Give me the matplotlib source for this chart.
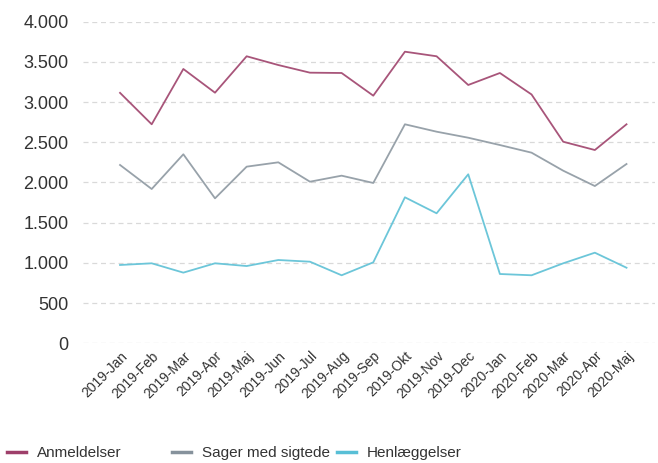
import matplotlib
matplotlib.use("Agg")
import matplotlib.pyplot as plt
from matplotlib.ticker import FuncFormatter, MultipleLocator

months = ["2019-Jan", "2019-Feb", "2019-Mar", "2019-Apr", "2019-Maj", "2019-Jun",
          "2019-Jul", "2019-Aug", "2019-Sep", "2019-Okt", "2019-Nov", "2019-Dec",
          "2020-Jan", "2020-Feb", "2020-Mar", "2020-Apr", "2020-Maj"]
anmeldelser = [3115, 2724, 3412, 3117, 3570, 3461, 3366, 3362, 3080, 3627, 3570,
               3213, 3362, 3095, 2507, 2404, 2724]
sager = [2218, 1919, 2351, 1803, 2197, 2251, 2010, 2085, 1994, 2724, 2632, 2557,
         2466, 2371, 2147, 1956, 2230]
henlaeggelser = [974, 995, 879, 995, 961, 1036, 1015, 846, 1007, 1816, 1617, 2102,
                 862, 846, 995, 1127, 940]
series_names = ["Anmeldelser", "Sager med sigtede", "Henlæggelser"]
colors = ["#a8557a", "#98a2aa", "#6cc6d9"]
legend_colors = ["#9e3f6a", "#86929c", "#58bfd6"]

plt.rcParams['font.family'] = ['Liberation Sans', 'DejaVu Sans']

W, H = 658, 463
fig = plt.figure(figsize=(W/100, H/100), dpi=100)
ax = fig.add_axes([83/W, 1 - 343.3/H, (655-83)/W, (343.3-21.7)/H])

x = list(range(len(months)))
lines = []
for vals, c, name in zip([anmeldelser, sager, henlaeggelser], colors, series_names):
    ln, = ax.plot(x, vals, color=c, lw=1.3, label=name)
    lines.append(ln)

ax.set_ylim(0, 4000)
ax.set_xlim(-1.17, 16.9)
ax.yaxis.set_major_locator(MultipleLocator(500))
ax.yaxis.set_major_formatter(FuncFormatter(lambda v, p: f"{int(v):,}".replace(",", ".")))
ax.grid(axis='y', color='#d9d9d9', linestyle=(0, (4, 3)), lw=0.9)
ax.set_axisbelow(True)
for s in ax.spines.values():
    s.set_visible(False)
ax.tick_params(axis='y', length=0, pad=10.5, labelsize=13, labelcolor='#333333')
ax.tick_params(axis='x', length=0, pad=4, labelsize=10, labelcolor='#333333')
ax.set_xticks(x)
ax.set_xticklabels(months, rotation=45, ha='right', rotation_mode='anchor')

starts = [7, 172, 337]
for ln, px, lc in zip(lines, starts, legend_colors):
    leg = fig.legend(handles=[ln], loc='center left', bbox_to_anchor=(px/W, 1 - 453/H),
                     frameon=False, fontsize=11, handlelength=1.25, handletextpad=0.7,
                     borderaxespad=0, borderpad=0)
    for t in leg.get_texts():
        t.set_color('#333333')
    for h in leg.legend_handles:
        h.set_linewidth(2.5)
        h.set_color(lc)

fig.savefig("out.png", dpi=100)
